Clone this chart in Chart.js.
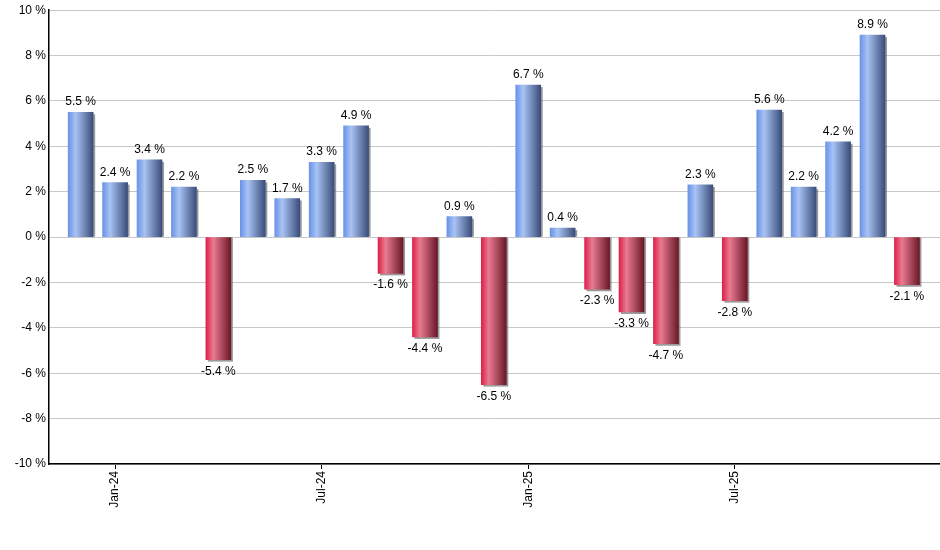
<!DOCTYPE html>
<html>
<head>
<meta charset="utf-8">
<script src="https://cdn.jsdelivr.net/npm/chart.js@4.4.1/dist/chart.umd.min.js"></script>
<style>
  html, body { margin: 0; padding: 0; background: #fff; }
  #wrap { width: 940px; height: 550px; }
</style>
</head>
<body>
<div id="wrap"><canvas id="canvas"></canvas></div>
<script>
// monthly returns, Dec-23 .. Dec-25
const months = ['Dec-23', 'Jan-24', 'Feb-24', 'Mar-24', 'Apr-24', 'May-24', 'Jun-24', 'Jul-24',
  'Aug-24', 'Sep-24', 'Oct-24', 'Nov-24', 'Dec-24', 'Jan-25', 'Feb-25', 'Mar-25', 'Apr-25',
  'May-25', 'Jun-25', 'Jul-25', 'Aug-25', 'Sep-25', 'Oct-25', 'Nov-25', 'Dec-25'];
const returns = [5.5, 2.4, 3.4, 2.2, -5.4, 2.5, 1.7, 3.3, 4.9, -1.6, -4.4, 0.9, -6.5,
  6.7, 0.4, -2.3, -3.3, -4.7, 2.3, -2.8, 5.6, 2.2, 4.2, 8.9, -2.1];
const shownMonths = ['Jan-24', 'Jul-24', 'Jan-25', 'Jul-25'];
const yTicks = [-10, -8, -6, -4, -2, 0, 2, 4, 6, 8, 10];

const blueStops = ['#6a93e8', '#a8c3f4', '#3a4d7a'];
const redStops = ['#dd2149', '#e97b91', '#6b1729'];

// gradient fill + drop shadow for each bar
const barLook = {
  id: 'barLook',
  beforeDatasetsDraw(chart) {
    const ctx = chart.ctx;
    const meta = chart.getDatasetMeta(0);
    meta.data.forEach(function (bar, i) {
      const left = bar.x - bar.width / 2;
      const right = bar.x + bar.width / 2;
      const stops = returns[i] >= 0 ? blueStops : redStops;
      const g = ctx.createLinearGradient(left, 0, right, 0);
      g.addColorStop(0, stops[0]);
      g.addColorStop(0.3, stops[1]);
      g.addColorStop(1, stops[2]);
      bar.options.backgroundColor = g;

      const top = Math.min(bar.y, bar.base);
      const bottom = Math.max(bar.y, bar.base);
      ctx.save();
      ctx.fillStyle = 'rgba(100,100,100,0.65)';
      if (returns[i] >= 0) {
        ctx.fillRect(right, top + 2, 2, bottom - top - 2);
      } else {
        ctx.fillRect(left + 2, top, bar.width, bottom - top + 2);
      }
      ctx.restore();
    });
  },
  afterDatasetsDraw(chart) {
    const ctx = chart.ctx;
    const meta = chart.getDatasetMeta(0);
    ctx.save();
    ctx.font = '12px "Liberation Sans", Arial, sans-serif';
    ctx.fillStyle = '#000';
    ctx.textAlign = 'center';
    ctx.textBaseline = 'alphabetic';
    meta.data.forEach(function (bar, i) {
      const txt = returns[i].toFixed(1) + ' %';
      if (returns[i] >= 0) {
        ctx.fillText(txt, bar.x, bar.y - 7);
      } else {
        ctx.fillText(txt, bar.x, bar.y + 15);
      }
    });
    ctx.restore();
  }
};

const points = returns.map(function (v, i) { return { x: i, y: v }; });

new Chart(document.getElementById('canvas'), {
  type: 'bar',
  data: {
    datasets: [{
      data: points,
      backgroundColor: returns.map(function (v) { return v >= 0 ? blueStops[1] : redStops[1]; }),
      borderWidth: 0,
      barThickness: 25
    }]
  },
  options: {
    responsive: true,
    maintainAspectRatio: false,
    animation: false,
    layout: { padding: { top: 9, right: 0, left: 0, bottom: 0 } },
    plugins: {
      legend: { display: false },
      tooltip: { enabled: false }
    },
    scales: {
      x: {
        type: 'linear',
        offset: false,
        bounds: 'ticks',
        min: -0.92,
        max: 24.96,
        afterBuildTicks(scale) {
          scale.ticks = shownMonths.map(function (m) { return { value: months.indexOf(m) }; });
        },
        afterFit(scale) { scale.height = 86; },
        grid: { display: true, offset: false, drawOnChartArea: false, drawTicks: true, tickLength: 5, tickColor: '#000' },
        border: { display: true, color: '#000', width: 1.5 },
        ticks: {
          autoSkip: false,
          minRotation: 90,
          maxRotation: 90,
          padding: 2,
          color: '#000',
          font: { family: '"Liberation Sans", Arial, sans-serif', size: 12 },
          callback: function (v) { return months[v]; }
        }
      },
      y: {
        min: -10,
        max: 10,
        afterBuildTicks(scale) {
          scale.ticks = yTicks.map(function (t) { return { value: t }; });
        },
        afterFit(scale) { scale.width = 49; },
        grid: { color: '#c8c8c8', lineWidth: 1, drawTicks: false },
        border: { display: true, color: '#000', width: 1.5 },
        ticks: {
          padding: 3,
          color: '#000',
          font: { family: '"Liberation Sans", Arial, sans-serif', size: 12 },
          callback: function (v) { return v + ' %'; }
        }
      }
    }
  },
  plugins: [barLook]
});
</script>
</body>
</html>
